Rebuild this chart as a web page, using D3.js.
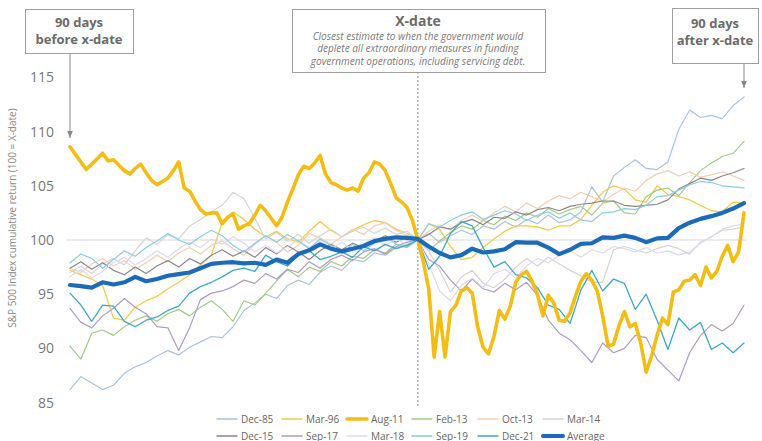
<!DOCTYPE html>
<html>
<head>
<meta charset="utf-8">
<script src="https://cdn.jsdelivr.net/npm/d3@7"></script>
<style>
  html, body { margin: 0; padding: 0; background: #fff; }
  svg { display: block; font-family: "Open Sans", "Noto Sans", sans-serif; }
</style>
</head>
<body>
<svg id="chart" width="762" height="441"></svg>
<script>
// ---------- DATA ----------
// trading days relative to the X-date (0); every 2nd day for the thin series, daily for Aug-11
const days = d3.range(-64, 61, 2);
const daysDaily = d3.range(-64, 61);
const yTicks = [85, 90, 95, 100, 105, 110, 115];

const dec85 = [86.2,87.4,86.8,86.2,86.6,87.7,88.3,88.7,89.3,89.8,89.4,90.1,90.6,91.1,91.0,92.0,93.5,94.2,95.0,94.6,95.8,96.3,95.9,97.0,97.6,97.2,98.2,98.0,98.8,98.6,99.3,99.6,100.0,100.6,99.8,100.4,100.9,100.5,101.3,101.0,101.7,101.2,101.9,101.5,102.3,101.6,101.85,102.6,104.9,103.5,105.9,106.7,107.4,106.6,106.5,107.2,110.2,112.0,111.3,111.5,111.2,112.4,113.2];
const mar96 = [97.2,96.8,96.4,95.8,92.8,92.6,93.8,94.4,94.8,95.5,96.1,96.8,97.7,98.6,101.6,102.6,101.9,101.0,100.3,100.8,100.1,99.8,100.8,101.7,100.9,100.3,100.9,101.4,101.8,101.6,101.0,100.6,100.0,101.5,101.0,99.4,98.2,98.4,99.3,100.1,100.8,101.3,101.3,101.2,100.9,101.3,101.3,101.9,103.2,104.4,105.0,104.7,103.7,103.5,105.0,104.2,104.0,103.7,103.2,102.7,102.6,103.5,103.4];
const aug11 = [108.6,107.9,107.2,106.5,107.0,107.5,108.0,107.3,107.4,106.9,106.4,106.1,106.6,107.0,106.2,105.5,105.1,105.4,105.7,106.4,107.2,104.8,104.5,103.6,102.8,102.4,102.5,102.5,101.5,102.1,102.4,101.0,101.3,101.5,102.3,103.2,102.7,102.0,101.3,102.1,103.5,104.7,106.0,106.8,106.6,107.1,107.8,106.1,105.3,105.1,104.8,104.6,104.8,104.5,105.7,106.2,107.2,107.0,106.4,105.2,103.9,103.5,103.0,101.8,100.0,
  98.0,95.5,89.2,93.4,89.2,93.4,94.0,95.3,95.6,95.1,92.0,90.1,89.5,91.1,93.5,92.7,93.9,96.1,96.8,97.1,96.2,95.0,93.0,94.9,94.2,92.6,92.5,93.3,94.8,96.2,96.9,96.3,95.3,93.0,90.2,90.4,92.1,93.4,92.0,92.3,90.5,87.8,89.3,91.2,92.8,92.2,95.2,95.4,96.2,96.3,96.8,95.8,97.5,96.5,97.1,98.5,99.5,98.0,98.9,102.5];
const feb13 = [90.2,89.0,91.4,91.7,91.2,92.0,92.6,93.0,92.5,93.2,93.6,93.0,93.8,94.4,93.6,92.5,94.4,94.0,95.1,96.2,97.3,96.6,97.5,97.1,98.0,97.6,98.5,98.3,99.1,98.8,99.6,99.3,100.0,99.0,99.9,100.7,101.3,101.0,101.8,101.4,102.2,101.8,102.5,102.1,102.9,102.4,102.8,103.1,102.3,103.4,103.6,102.5,102.4,104.0,104.6,104.8,104.1,105.3,106.4,107.1,107.7,108.0,109.1];
const oct13 = [97.4,97.0,97.8,98.3,97.6,98.1,97.3,97.9,98.6,98.0,98.8,99.3,98.7,99.5,99.9,99.2,98.6,99.6,100.4,99.8,98.9,99.5,100.6,100.2,99.6,100.3,101.0,100.5,101.3,101.6,100.9,100.4,100.0,100.8,101.4,100.9,101.8,102.3,101.7,102.5,103.1,102.6,103.4,102.9,103.6,104.1,103.8,104.4,104.0,103.5,104.2,104.8,104.5,105.5,106.1,106.4,105.9,106.3,105.8,106.0,106.3,105.9,105.5];
const mar14 = [97.0,97.6,96.9,97.8,98.3,97.7,99.0,100.2,99.6,100.5,100.1,101.3,101.9,102.6,103.2,104.4,103.8,102.0,100.1,100.7,99.9,100.5,99.7,100.4,101.0,100.3,100.8,101.2,100.6,101.1,100.5,100.8,100.0,99.0,97.2,95.2,96.6,97.2,96.0,95.6,96.4,97.5,98.3,97.6,98.4,97.8,97.2,96.7,96.1,96.1,99.1,99.4,99.1,98.8,99.2,99.5,99.2,98.7,99.8,100.3,100.9,101.0,101.2];
const dec15 = [97.4,98.0,97.3,97.9,97.2,96.8,97.5,96.9,97.6,98.1,97.5,98.3,97.8,98.6,99.1,98.5,99.0,98.4,99.3,98.7,99.5,98.9,98.2,99.0,99.6,99.1,99.7,99.3,99.9,100.4,99.8,100.3,100.0,100.5,101.2,101.0,101.6,101.9,101.4,102.1,102.0,102.6,102.3,102.8,103.0,102.7,103.1,103.3,103.4,103.6,103.6,103.2,103.1,103.2,103.3,103.7,104.7,105.2,105.7,105.5,105.9,106.2,106.6];
const sep17 = [93.7,92.4,91.9,93.0,93.7,94.6,93.8,93.2,92.0,91.9,89.8,91.9,94.5,95.1,95.3,95.7,96.3,96.0,96.9,96.4,97.3,97.0,98.0,97.4,98.2,98.6,98.1,98.9,99.2,98.7,99.4,99.8,100.0,98.2,97.6,96.3,95.3,96.4,95.5,95.2,96.0,95.4,96.1,94.9,92.6,91.4,90.8,89.8,88.7,90.5,89.6,90.0,91.2,91.0,89.0,88.0,87.0,89.6,91.2,92.2,91.6,92.3,94.0];
const mar18 = [96.6,97.3,96.5,97.1,97.9,98.4,97.7,98.3,99.0,98.4,99.2,99.8,99.3,100.1,99.6,100.3,99.7,98.9,99.5,98.8,99.4,100.0,99.3,99.9,99.2,99.8,99.1,99.6,100.2,99.5,100.1,99.6,100.0,97.8,95.3,94.4,95.8,96.5,95.6,96.9,97.3,96.5,97.6,98.3,97.9,98.6,99.0,98.4,99.1,98.8,99.4,99.2,98.9,99.3,98.8,99.0,98.6,98.9,99.7,100.3,101.0,101.3,101.5];
const sep19 = [97.9,98.7,98.3,97.4,98.2,99.0,98.5,99.3,99.9,100.6,100.0,99.6,100.3,100.9,100.4,99.5,98.9,99.7,100.4,99.8,100.5,99.9,99.2,100.1,99.5,98.8,99.6,99.0,99.7,100.3,99.6,99.4,100.0,101.5,101.2,101.8,102.3,102.6,101.9,102.3,102.7,102.4,101.8,102.3,102.6,102.0,102.5,101.85,101.7,102.5,102.6,102.9,102.8,103.2,104.0,104.1,104.6,105.1,105.4,105.3,105.0,104.9,104.8];
const dec21 = [95.1,94.0,92.5,94.0,93.9,92.5,92.0,92.6,92.9,93.5,93.9,95.1,95.7,96.1,96.6,97.2,97.4,97.1,98.6,98.0,97.6,98.6,99.0,98.2,98.5,98.9,98.4,99.4,99.0,99.6,99.2,99.5,100.0,97.3,98.5,100.6,101.7,101.3,99.3,97.5,98.0,96.8,96.5,95.6,94.0,93.6,92.3,95.4,97.2,95.3,96.4,96.0,93.6,95.0,92.6,89.9,92.8,91.7,92.4,89.9,90.5,89.6,90.5];
const average = [95.85,95.75,95.6,96.1,95.9,96.1,96.6,96.2,96.4,96.7,96.85,97.0,97.4,97.8,97.9,97.95,97.85,97.9,97.7,98.2,97.9,98.7,99.05,99.6,99.2,98.95,99.2,99.45,99.9,100.1,100.25,100.2,100.1,99.4,98.8,98.4,98.6,99.2,98.85,98.95,99.15,99.8,99.75,99.75,99.3,98.7,99.1,99.65,99.7,100.25,100.2,100.4,100.2,99.8,100.15,100.2,101.1,101.6,101.95,102.2,102.5,102.9,103.4];

const seriesNames = ["Dec-85","Mar-96","Aug-11","Feb-13","Oct-13","Mar-14","Dec-15","Sep-17","Mar-18","Sep-19","Dec-21","Average"];
const seriesValues = [dec85, mar96, aug11, feb13, oct13, mar14, dec15, sep17, mar18, sep19, dec21, average];
const seriesColors = ["#a9c4dc","#f2cc4a","#f4bd14","#a2cb82","#f2ceb3","#d4d4d4","#8f8489","#ac9bc6","#dfd9ea","#8ccbe5","#3ea8c6","#1b6bb8"];
const seriesWidths = [1.2,1.3,3.6,1.2,1.2,1.2,1.2,1.2,1.2,1.2,1.3,4.2];

// ---------- CHART ----------
const svg = d3.select("#chart");
const x = d3.scaleLinear().domain([-64, 60]).range([70, 744]);
const y = d3.scaleLinear().domain([85, 115]).range([402.6, 77.4]);

// reference line at 100
svg.append("line")
  .attr("x1", 66).attr("x2", 746)
  .attr("y1", y(100)).attr("y2", y(100))
  .attr("stroke", "#d9d9d9").attr("stroke-width", 1);

// y axis
const yAxis = svg.append("g")
  .attr("transform", "translate(62,0)")
  .call(d3.axisLeft(y).tickValues(yTicks).tickSize(0).tickPadding(8).tickFormat(d3.format("d")));
yAxis.select(".domain").remove();
yAxis.selectAll("text")
  .attr("fill", "#777").attr("font-size", 14)
  .attr("font-family", "\"Open Sans\", sans-serif");

svg.append("text")
  .attr("transform", "translate(16,218) rotate(-90)")
  .attr("text-anchor", "middle")
  .attr("font-size", 10).attr("fill", "#888")
  .text("S&P 500 Index cumulative return (100 = X-date)");

// x-date dashed line
svg.append("line")
  .attr("x1", x(0)).attr("x2", x(0))
  .attr("y1", 72).attr("y2", 406)
  .attr("stroke", "#8a8a8a").attr("stroke-width", 1)
  .attr("stroke-dasharray", "2,2");

// lines
const line = d3.line().x(d => x(d[0])).y(d => y(d[1]));
const order = [0,1,3,4,5,6,7,8,9,10,2,11];
order.forEach(i => {
  const vals = seriesValues[i];
  const xs = vals.length === daysDaily.length ? daysDaily : days;
  svg.append("path")
    .datum(vals.map((v, k) => [xs[k], v]))
    .attr("fill", "none")
    .attr("stroke", seriesColors[i])
    .attr("stroke-width", seriesWidths[i])
    .attr("stroke-linejoin", "round")
    .attr("stroke-linecap", "round")
    .attr("d", line);
});

// annotations
const defs = svg.append("defs");
defs.append("marker")
  .attr("id", "arrow").attr("viewBox", "0 0 10 10")
  .attr("refX", 10).attr("refY", 5)
  .attr("markerWidth", 7).attr("markerHeight", 7)
  .attr("orient", "auto")
  .append("path").attr("d", "M0,1 L10,5 L0,9 Z").attr("fill", "#888");

function box(x0, y0, w, h) {
  svg.append("rect").attr("x", x0 + 0.5).attr("y", y0 + 0.5)
    .attr("width", w).attr("height", h)
    .attr("fill", "#fff").attr("stroke", "#a0a0a0").attr("stroke-width", 1);
}
function boldText(cx, cy, t, size) {
  svg.append("text").attr("x", cx).attr("y", cy)
    .attr("text-anchor", "middle").attr("font-size", size || 13).attr("font-weight", 700)
    .attr("fill", "#6b6b6b").text(t);
}

// left
svg.append("line").attr("x1", 70).attr("x2", 70).attr("y1", 54).attr("y2", 138)
  .attr("stroke", "#888").attr("stroke-width", 1).attr("marker-end", "url(#arrow)");
box(25, 9, 108, 44);
boldText(79, 27, "90 days");
boldText(79, 44, "before x-date");

// right
svg.append("line").attr("x1", 744).attr("x2", 744).attr("y1", 63).attr("y2", 88)
  .attr("stroke", "#888").attr("stroke-width", 1).attr("marker-end", "url(#arrow)");
box(672, 8, 86, 55);
boldText(715, 28, "90 days");
boldText(715, 45, "after x-date");

// middle
box(292, 9, 253, 63);
boldText(418, 26, "X-date", 14);
["Closest estimate to when the government would",
 "deplete all extraordinary measures in funding",
 "government operations, including servicing debt."].forEach((t, k) => {
  svg.append("text").attr("x", 418).attr("y", 39.5 + k * 12.5)
    .attr("text-anchor", "middle").attr("font-size", 10).attr("font-style", "italic")
    .attr("fill", "#7a7a7a").text(t);
});

// legend
const legCols = [217, 282, 347, 412, 478, 543];
seriesNames.forEach((name, i) => {
  const col = i % 6, row = Math.floor(i / 6);
  const lx = legCols[col], ly = 419 + row * 17;
  const g = svg.append("g");
  g.append("line").attr("x1", lx).attr("x2", lx + 20).attr("y1", ly).attr("y2", ly)
    .attr("stroke", seriesColors[i])
    .attr("stroke-width", i === 2 ? 3.5 : (i === 11 ? 4 : 1.3))
    .attr("stroke-linecap", "round");
  g.append("text").attr("x", lx + 24).attr("y", ly + 3.5)
    .attr("font-size", 10).attr("fill", "#666").text(name);
});
</script>
</body>
</html>
